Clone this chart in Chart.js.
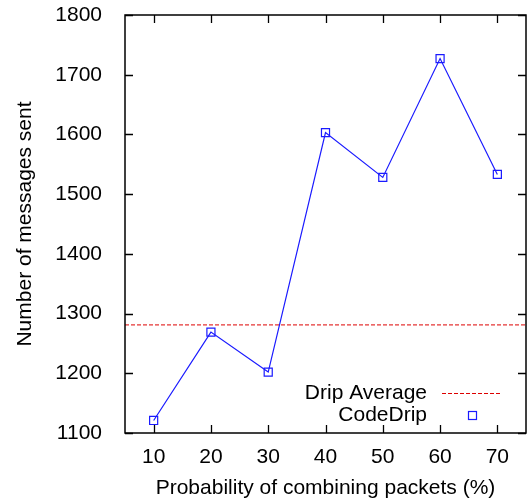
<!DOCTYPE html>
<html>
<head>
<meta charset="utf-8">
<script src="https://cdn.jsdelivr.net/npm/chart.js@4"></script>
<style>
  html, body { margin: 0; padding: 0; background: #fff; }
  #wrap { width: 527px; height: 503px; }
</style>
</head>
<body>
<div id="wrap"><canvas id="msgChart" width="527" height="503"></canvas></div>
<script>
var probabilities = [10, 20, 30, 40, 50, 60, 70];
var codeDripMessages = [1121, 1269, 1202, 1603, 1528, 1727, 1533];
var dripAverage = 1281;
var xTicks = [10, 20, 30, 40, 50, 60, 70];
var yTicks = [1100, 1200, 1300, 1400, 1500, 1600, 1700, 1800];

var FONT = "'Liberation Sans', Arial, sans-serif";
var BLUE = "#1a1aff";
var RED = "#dd0000";

// frame, inward ticks on all four sides, and the key in the lower right
var framePlugin = {
  id: "frame",
  afterDraw: function (chart) {
    var ctx = chart.ctx, a = chart.chartArea;
    var xs = chart.scales.x, ys = chart.scales.y;
    ctx.save();
    ctx.strokeStyle = "#000";
    ctx.lineWidth = 1.3;
    ctx.beginPath();
    xTicks.forEach(function (v) {
      var px = Math.round(xs.getPixelForValue(v)) + 0.5;
      ctx.moveTo(px, a.bottom); ctx.lineTo(px, a.bottom - 8);
      ctx.moveTo(px, a.top); ctx.lineTo(px, a.top + 8);
    });
    yTicks.forEach(function (v) {
      var py = Math.round(ys.getPixelForValue(v)) + 0.5;
      ctx.moveTo(a.left, py); ctx.lineTo(a.left + 8, py);
      ctx.moveTo(a.right, py); ctx.lineTo(a.right - 8, py);
    });
    ctx.stroke();
    ctx.lineWidth = 1.5;
    ctx.strokeRect(a.left, a.top, a.right - a.left, a.bottom - a.top);

    // key
    ctx.font = "21px " + FONT;
    ctx.fillStyle = "#000";
    ctx.textAlign = "right";
    ctx.textBaseline = "middle";
    ctx.fillText("Drip Average", 427, 393);
    ctx.fillText("CodeDrip", 427, 415);
    ctx.strokeStyle = RED;
    ctx.lineWidth = 1;
    ctx.setLineDash([4, 2]);
    ctx.beginPath();
    ctx.moveTo(442, 393.5); ctx.lineTo(502, 393.5);
    ctx.stroke();
    ctx.setLineDash([]);
    ctx.strokeStyle = BLUE;
    ctx.lineWidth = 1.2;
    ctx.strokeRect(468.5, 411.5, 8, 8);
    ctx.restore();
  }
};

function plainTick(v) { return String(v); }

var ctx = document.getElementById("msgChart").getContext("2d");
var msgChart = new Chart(ctx, {
  type: "scatter",
  data: {
    datasets: [
      {
        label: "CodeDrip",
        data: probabilities.map(function (p, i) { return { x: p, y: codeDripMessages[i] }; }),
        showLine: true,
        borderColor: BLUE,
        borderWidth: 1.2,
        backgroundColor: "rgba(0,0,0,0)",
        pointStyle: "rect",
        pointRadius: 5.7,
        pointBorderWidth: 1.2,
        pointBorderColor: BLUE,
        pointHoverRadius: 5.7,
      },
      {
        label: "Drip Average",
        data: [{ x: 5, y: dripAverage }, { x: 75, y: dripAverage }],
        showLine: true,
        borderColor: RED,
        borderWidth: 1,
        borderDash: [4, 2],
        pointRadius: 0,
      },
    ],
  },
  options: {
    responsive: false,
    animation: false,
    layout: { autoPadding: false, padding: { top: 15, right: 1, left: 0, bottom: 0 } },
    plugins: {
      legend: { display: false },
      tooltip: { enabled: false },
    },
    scales: {
      x: {
        type: "linear",
        min: 5,
        max: 75,
        afterBuildTicks: function (axis) {
          axis.ticks = xTicks.map(function (v) { return { value: v }; });
        },
        afterFit: function (axis) {
          axis.height = 70;
          axis.paddingLeft = 0;
          axis.paddingRight = 0;
        },
        grid: { display: false },
        border: { display: false },
        ticks: { color: "#000", padding: 4, callback: plainTick, font: { family: FONT, size: 21 } },
        title: {
          display: true,
          text: "Probability of combining packets (%)",
          color: "#000",
          font: { family: FONT, size: 21 },
          padding: { top: 0, bottom: 2 },
        },
      },
      y: {
        min: 1100,
        max: 1800,
        afterBuildTicks: function (axis) {
          axis.ticks = yTicks.map(function (v) { return { value: v }; });
        },
        afterFit: function (axis) {
          axis.width = 125;
          axis.paddingTop = 0;
          axis.paddingBottom = 0;
        },
        grid: { display: false },
        border: { display: false },
        ticks: { color: "#000", padding: 15, callback: plainTick, font: { family: FONT, size: 21 } },
        title: {
          display: true,
          text: "Number of messages sent",
          color: "#000",
          font: { family: FONT, size: 21 },
          padding: { top: 13, bottom: 0 },
        },
      },
    },
  },
  plugins: [framePlugin],
});
</script>
</body>
</html>
